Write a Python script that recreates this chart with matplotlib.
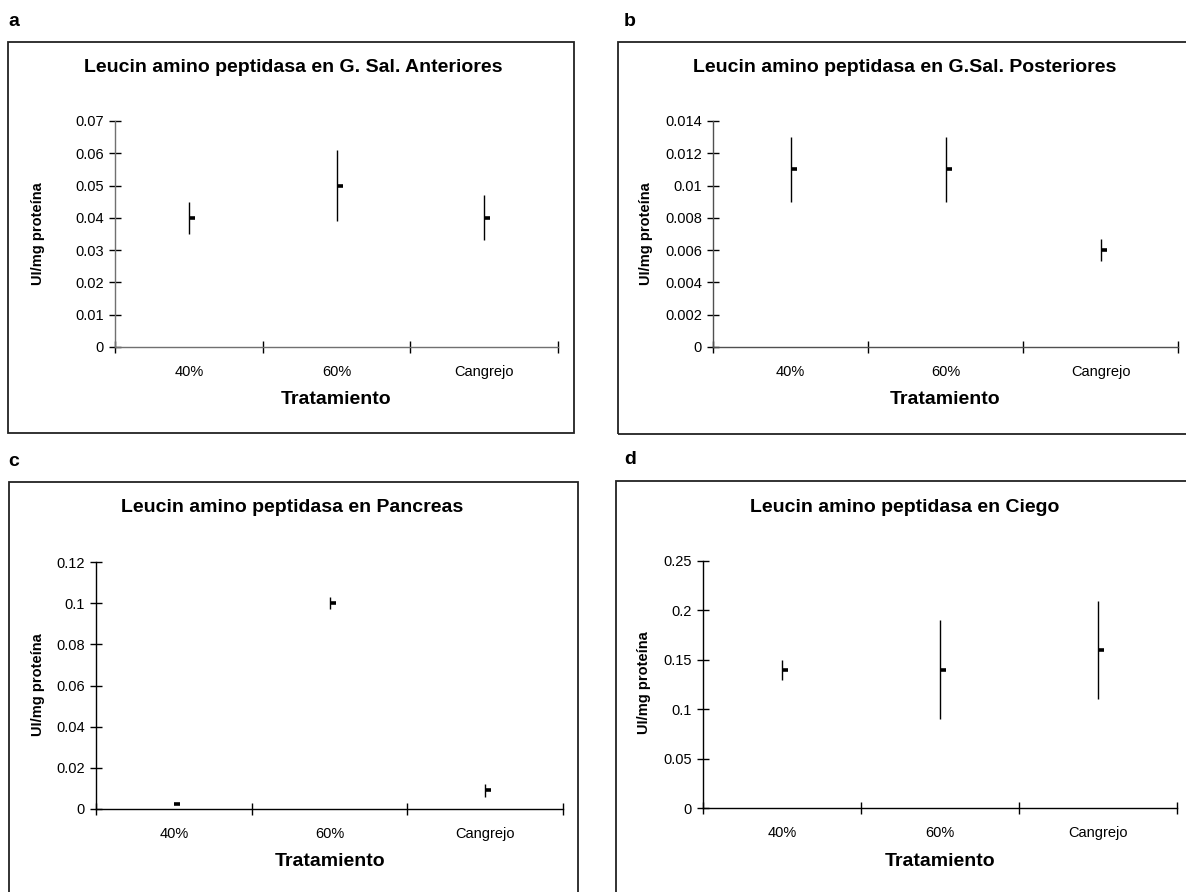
import matplotlib
matplotlib.use("Agg")
import matplotlib.pyplot as plt
import numpy as np
from matplotlib.patches import Rectangle
from matplotlib.path import Path
from matplotlib.ticker import FixedLocator, FuncFormatter

plt.rcParams['font.family'] = ['Liberation Sans', 'DejaVu Sans']

# Treatments
categories = ["40%", "60%", "Cangrejo"]

# Leucin amino peptidasa (UI/mg proteína): high / low / mean per treatment
anteriores_high = [0.045, 0.061, 0.047]
anteriores_low = [0.035, 0.039, 0.033]
anteriores_mean = [0.040, 0.050, 0.040]

posteriores_high = [0.013, 0.013, 0.0067]
posteriores_low = [0.009, 0.009, 0.0053]
posteriores_mean = [0.011, 0.011, 0.006]

pancreas_high = [0.0022, 0.103, 0.012]
pancreas_low = [0.0022, 0.097, 0.006]
pancreas_mean = [0.0022, 0.100, 0.009]

ciego_high = [0.15, 0.19, 0.21]
ciego_low = [0.13, 0.09, 0.11]
ciego_mean = [0.14, 0.14, 0.16]

titles = [
    "Leucin amino peptidasa en G. Sal. Anteriores",
    "Leucin amino peptidasa en G.Sal. Posteriores",
    "Leucin amino peptidasa en Pancreas",
    "Leucin amino peptidasa en Ciego",
]
panel_letters = ["a", "b", "c", "d"]
y_ticks = [
    [0, 0.01, 0.02, 0.03, 0.04, 0.05, 0.06, 0.07],
    [0, 0.002, 0.004, 0.006, 0.008, 0.01, 0.012, 0.014],
    [0, 0.02, 0.04, 0.06, 0.08, 0.1, 0.12],
    [0, 0.05, 0.1, 0.15, 0.2, 0.25],
]

W, H = 1186, 892
fig = plt.figure(figsize=(W / 100, H / 100), dpi=100)


def fx(px):
    return px / W


def fy(py):
    return 1 - py / H


# right-pointing tick used for the mean of each high-low line
close_tick = Path([(0, 0), (1, 0)], [Path.MOVETO, Path.LINETO])

# panel geometry in pixels: axes (left, right, top, bottom), frame (x0, y0, x1, y1),
# title centre, x-label centre, y-label centre, letter position
panels = [
    dict(ax=(115, 558, 121, 347), frame=(8, 42, 574, 433), title=(293, 68),
         xlab=(336, 400), ylab=(38, 234), letter=(8, 22), axcol="#707070",
         data=(anteriores_high, anteriores_low, anteriores_mean)),
    dict(ax=(713, 1178, 121, 347), frame=(618, 42, 1195, 434), title=(905, 68),
         xlab=(945, 400), ylab=(646, 234), letter=(624, 22), axcol="#505050",
         data=(posteriores_high, posteriores_low, posteriores_mean)),
    dict(ax=(96, 563, 562, 809), frame=(9, 482, 578, 900), title=(292, 508),
         xlab=(330, 862), ylab=(38, 685), letter=(8, 461), axcol="black",
         data=(pancreas_high, pancreas_low, pancreas_mean)),
    dict(ax=(703, 1177, 561, 808), frame=(616, 481, 1195, 900), title=(905, 507),
         xlab=(940, 861), ylab=(644, 683), letter=(624, 459), axcol="black",
         data=(ciego_high, ciego_low, ciego_mean)),
]

x = np.arange(1, len(categories) + 1)

for i, p in enumerate(panels):
    l, r, t, b = p["ax"]
    ax = fig.add_axes([fx(l), fy(b), fx(r) - fx(l), (b - t) / H])
    high, low, mean = p["data"]
    ax.vlines(x, low, high, colors="black", lw=1.0)
    ax.plot(x, mean, linestyle="none", marker=close_tick, markersize=9,
            markeredgewidth=2.6, color="black", solid_capstyle="butt")
    ax.set_xlim(0.5, len(categories) + 0.5)
    ax.set_ylim(0, y_ticks[i][-1])
    ax.yaxis.set_major_locator(FixedLocator(y_ticks[i]))
    ax.yaxis.set_major_formatter(FuncFormatter(lambda v, pos: "%g" % round(v, 6)))
    ax.xaxis.set_major_locator(FixedLocator(np.arange(0.5, len(categories) + 1, 1.0)))
    ax.xaxis.set_major_formatter(FuncFormatter(lambda v, pos: ""))
    ax.xaxis.set_minor_locator(FixedLocator(x))
    ax.set_xticklabels(categories, minor=True)
    for s in ("top", "right"):
        ax.spines[s].set_visible(False)
    for s in ("left", "bottom"):
        ax.spines[s].set_color(p["axcol"])
        ax.spines[s].set_linewidth(1.0)
    ax.tick_params(axis="both", which="major", direction="inout", length=8,
                   width=1.0, color="black", labelsize=10.5, pad=4)
    ax.tick_params(axis="x", which="minor", length=0, labelsize=10.5, pad=13)
    ax.patch.set_alpha(0)

    fig.text(fx(p["title"][0]), fy(p["title"][1]), titles[i], ha="center",
             va="center", fontsize=14, fontweight="bold")
    fig.text(fx(p["xlab"][0]), fy(p["xlab"][1]), "Tratamiento", ha="center",
             va="center", fontsize=14, fontweight="bold")
    fig.text(fx(p["ylab"][0]), fy(p["ylab"][1]), "UI/mg proteína", ha="center",
             va="center", rotation=90, fontsize=10.5, fontweight="bold")
    fig.text(fx(p["letter"][0]), fy(p["letter"][1]), panel_letters[i],
             ha="left", va="center", fontsize=14, fontweight="bold")

    x0, y0, x1, y1 = p["frame"]
    fig.add_artist(Rectangle((fx(x0), fy(y1)), fx(x1) - fx(x0), (y1 - y0) / H,
                             transform=fig.transFigure, fill=False,
                             edgecolor="#222222", linewidth=1.3))

fig.savefig("out.png", dpi=100)
